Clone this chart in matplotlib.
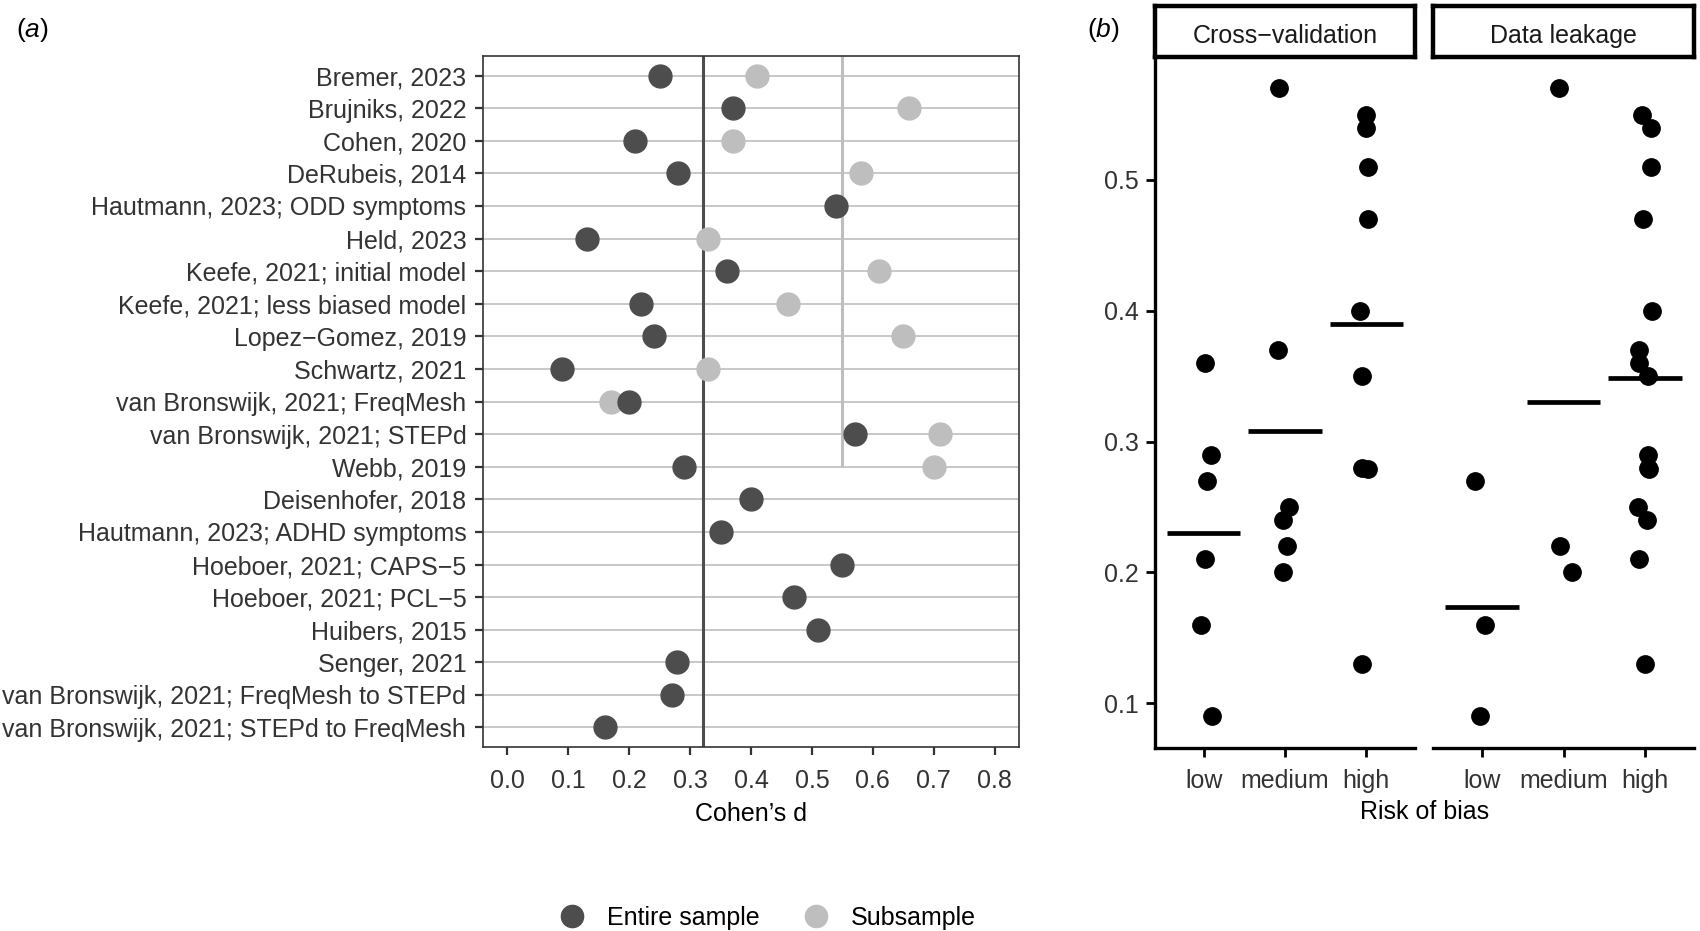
import numpy as np
import matplotlib
matplotlib.use("Agg")
import matplotlib.pyplot as plt
from matplotlib.lines import Line2D

plt.rcParams['font.family'] = ['Liberation Sans', 'DejaVu Sans']
plt.rcParams['mathtext.fontset'] = 'custom'
plt.rcParams['mathtext.rm'] = 'Liberation Sans'
plt.rcParams['mathtext.it'] = 'Liberation Sans:italic'

# ---------------- data: panel (a) ----------------
studies = [
    "Bremer, 2023", "Brujniks, 2022", "Cohen, 2020", "DeRubeis, 2014",
    "Hautmann, 2023; ODD symptoms", "Held, 2023", "Keefe, 2021; initial model",
    "Keefe, 2021; less biased model", "Lopez\u2212Gomez, 2019", "Schwartz, 2021",
    "van Bronswijk, 2021; FreqMesh", "van Bronswijk, 2021; STEPd", "Webb, 2019",
    "Deisenhofer, 2018", "Hautmann, 2023; ADHD symptoms", "Hoeboer, 2021; CAPS\u22125",
    "Hoeboer, 2021; PCL\u22125", "Huibers, 2015", "Senger, 2021",
    "van Bronswijk, 2021; FreqMesh to STEPd", "van Bronswijk, 2021; STEPd to FreqMesh",
]
entire = [0.25, 0.37, 0.21, 0.28, 0.54, 0.13, 0.36, 0.22, 0.24, 0.09, 0.20,
          0.57, 0.29, 0.40, 0.35, 0.55, 0.47, 0.51, 0.278, 0.27, 0.16]
subsample = [0.41, 0.66, 0.37, 0.58, np.nan, 0.33, 0.61, 0.46, 0.65, 0.33, 0.17,
             0.71, 0.70, np.nan, np.nan, np.nan, np.nan, np.nan, np.nan, np.nan, np.nan]
subsample_line_value = 0.55
subsample_line_last_study = "Webb, 2019"
x_ticks_a = [0.0, 0.1, 0.2, 0.3, 0.4, 0.5, 0.6, 0.7, 0.8]
legend_labels = ["Entire sample", "Subsample"]

# ---------------- data: panel (b) ----------------
facets = ["Cross\u2212validation", "Data leakage"]
risk_levels = ["low", "medium", "high"]
cv_low = [0.36, 0.29, 0.27, 0.21, 0.16, 0.09]
cv_low_jitter = [0.01, 0.09, 0.04, 0.02, -0.04, 0.10]
cv_medium = [0.57, 0.37, 0.25, 0.24, 0.22, 0.20]
cv_medium_jitter = [-0.08, -0.09, 0.05, -0.03, 0.03, -0.03]
cv_high = [0.55, 0.54, 0.51, 0.47, 0.40, 0.35, 0.28, 0.279, 0.13]
cv_high_jitter = [0.0, 0.0, 0.02, 0.02, -0.08, -0.05, -0.05, 0.02, -0.05]
dl_low = [0.27, 0.16, 0.09]
dl_low_jitter = [-0.09, 0.04, -0.02]
dl_medium = [0.57, 0.22, 0.20]
dl_medium_jitter = [-0.05, -0.04, 0.10]
dl_high = [0.55, 0.54, 0.51, 0.47, 0.40, 0.37, 0.36, 0.35, 0.29, 0.28, 0.279,
           0.25, 0.24, 0.21, 0.13]
dl_high_jitter = [-0.04, 0.07, 0.07, -0.03, 0.09, -0.08, -0.07, 0.04, 0.03, 0.03,
                  0.05, -0.09, 0.02, -0.08, 0.0]
y_ticks_b = [0.1, 0.2, 0.3, 0.4, 0.5]

DARK = "#4D4D4D"
LIGHT = "#BEBEBE"
TXT = "#333333"
FS = 18

fig = plt.figure(figsize=(17, 9.31), dpi=100)

# ================= panel (a) =================
ax = fig.add_axes([0.2841, 0.1976, 0.5994 - 0.2841, 0.9398 - 0.1976])
n = len(studies)
ypos = np.arange(n)
ax.set_ylim(n - 0.4, -0.6)
ax.set_xlim(-0.04, 0.84)
ax.set_yticks(ypos)
ax.set_yticklabels(studies)
ax.set_xticks(x_ticks_a)
ax.set_xticklabels([f"{t:.1f}" for t in x_ticks_a])
ax.grid(axis='y', color='#C4C4C4', linewidth=1.3)
ax.set_axisbelow(True)
for s in ax.spines.values():
    s.set_color('#333333')
    s.set_linewidth(1.2)
ax.tick_params(axis='both', length=6, width=1.6, color='#333333',
               labelsize=FS, labelcolor=TXT, pad=6)
ax.tick_params(axis='x', pad=10)

mean_entire = float(np.mean(entire))
ax.axvline(mean_entire, color=DARK, linewidth=2.2, zorder=2)
last_idx = studies.index(subsample_line_last_study)
ax.vlines(subsample_line_value, -0.6, last_idx, color=LIGHT, linewidth=2.2, zorder=2)

ax.plot(subsample, ypos, 'o', color=LIGHT, markersize=16.5, linestyle='none', zorder=3)
ax.plot(entire, ypos, 'o', color=DARK, markersize=16.5, linestyle='none', zorder=4)
ax.set_xlabel("Cohen\u2019s d", fontsize=FS, color='black', labelpad=6)

handles = [Line2D([], [], marker='o', color=DARK, linestyle='none', markersize=16),
           Line2D([], [], marker='o', color=LIGHT, linestyle='none', markersize=16)]
fig.legend(handles, legend_labels, loc='center', bbox_to_anchor=(0.448, 0.0145),
           ncol=2, frameon=False, fontsize=FS, handletextpad=0.4,
           columnspacing=1.25)

fig.text(0.019, 0.968, r"($\it{a}$)", fontsize=19, ha='center', va='center')

# ================= panel (b) =================
groups = [
    [(cv_low, cv_low_jitter), (cv_medium, cv_medium_jitter), (cv_high, cv_high_jitter)],
    [(dl_low, dl_low_jitter), (dl_medium, dl_medium_jitter), (dl_high, dl_high_jitter)],
]
lefts = [1155 / 1700, 1433 / 1700]
rights = [1415 / 1700, 1694 / 1700]
bottom_b = 1 - 747.7 / 931
top_b = 1 - 57 / 931
strip_top = 1 - 6 / 931

for k in range(2):
    axb = fig.add_axes([lefts[k], bottom_b, rights[k] - lefts[k], top_b - bottom_b])
    axb.set_xlim(0.4, 3.6)
    axb.set_ylim(0.066, 0.594)
    for i, (vals, jit) in enumerate(groups[k]):
        xc = i + 1
        axb.plot(np.full(len(vals), xc) + np.array(jit), vals, 'o', color='black',
                 markersize=12.5, linestyle='none', zorder=3)
        m = float(np.mean(vals))
        axb.hlines(m, xc - 0.45, xc + 0.45, color='black', linewidth=3.4, zorder=2)
    axb.set_xticks([1, 2, 3])
    axb.set_xticklabels(risk_levels)
    axb.spines['top'].set_visible(False)
    axb.spines['right'].set_visible(False)
    axb.spines['bottom'].set_linewidth(2.4)
    axb.spines['left'].set_linewidth(2.4)
    axb.tick_params(axis='both', length=6.5, width=2.0, color='black',
                    labelsize=FS, labelcolor=TXT, pad=5)
    axb.tick_params(axis='x', pad=9)
    axb.set_yticks(y_ticks_b)
    if k == 0:
        axb.set_yticklabels([f"{t:.1f}" for t in y_ticks_b])
    else:
        axb.spines['left'].set_visible(False)
        axb.tick_params(axis='y', left=False, labelleft=False)
    # strip
    sax = fig.add_axes([lefts[k], top_b, rights[k] - lefts[k], strip_top - top_b])
    sax.set_xticks([])
    sax.set_yticks([])
    for s in sax.spines.values():
        s.set_linewidth(3.2)
        s.set_color('black')
    sax.text(0.5, 0.42, facets[k], ha='center', va='center', fontsize=FS,
             color='#1A1A1A', transform=sax.transAxes)

fig.text((lefts[0] + rights[1]) / 2, 1 - 812 / 931, "Risk of bias", ha='center',
         va='center', fontsize=FS, color='black')
fig.text(1103 / 1700, 0.968, r"($\it{b}$)", fontsize=19, ha='center', va='center')

fig.savefig("out.png", dpi=100)
